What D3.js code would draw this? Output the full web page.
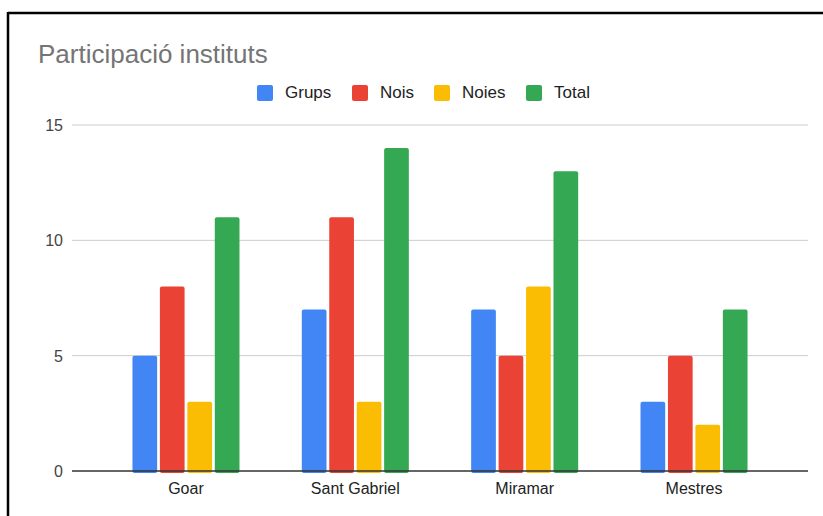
<!DOCTYPE html>
<html>
<head>
<meta charset="utf-8">
<script src="https://cdn.jsdelivr.net/npm/d3@7"></script>
<style>
  body { margin: 0; background: #fff; }
  svg { display: block; font-family: "Liberation Sans", Arial, sans-serif; }
</style>
</head>
<body>
<div id="c1"></div>
<script>
// Data
var categories = ["Goar", "Sant Gabriel", "Miramar", "Mestres"];
var seriesNames = ["Grups", "Nois", "Noies", "Total"];
var grups = [5, 7, 7, 3];
var nois = [8, 11, 5, 5];
var noies = [3, 3, 8, 2];
var total = [11, 14, 13, 7];
var yTicks = [0, 5, 10, 15];
var colors = ["#4285F4", "#EA4335", "#FBBC04", "#34A853"];

var w = 823, h = 516;
var values = [grups, nois, noies, total];

var svg = d3.select("#c1").append("svg")
    .attr("width", w)
    .attr("height", h);

// frame edges (left / top)
svg.append("line").attr("x1", 8).attr("x2", 8).attr("y1", 12).attr("y2", h)
    .attr("stroke", "#000").attr("stroke-width", 2.5);
svg.append("line").attr("x1", 8).attr("x2", w).attr("y1", 13).attr("y2", 13)
    .attr("stroke", "#000").attr("stroke-width", 2.5);

// Scales
var x = d3.scaleBand()
    .domain(categories)
    .range([72, 808])
    .paddingInner(0.368)
    .paddingOuter(0.357);

var xs = d3.scaleBand()
    .domain(seriesNames)
    .range([0, x.bandwidth()])
    .paddingInner(0.1);

var y = d3.scaleLinear()
    .domain([0, 15])
    .range([471, 125]);

// Gridlines
svg.append("g").selectAll("line")
    .data(yTicks.filter(function (d) { return d > 0; }))
    .enter().append("line")
    .attr("x1", 72).attr("x2", 808)
    .attr("y1", function (d) { return y(d); })
    .attr("y2", function (d) { return y(d); })
    .attr("stroke", "#cccccc")
    .attr("stroke-width", 1);

// Y labels
svg.append("g").selectAll("text")
    .data(yTicks)
    .enter().append("text")
    .attr("x", 63)
    .attr("y", function (d) { return y(d) + 6; })
    .attr("text-anchor", "end")
    .attr("font-size", 16)
    .attr("fill", "#444")
    .text(function (d) { return d; });

// Bars
var groups = svg.append("g").selectAll("g")
    .data(categories)
    .enter().append("g")
    .attr("transform", function (d) { return "translate(" + x(d) + ",0)"; });

groups.selectAll("rect")
    .data(function (d, i) {
        return seriesNames.map(function (s, j) {
            return { s: s, v: values[j][i], c: colors[j] };
        });
    })
    .enter().append("rect")
    .attr("x", function (d) { return xs(d.s); })
    .attr("width", xs.bandwidth())
    .attr("y", function (d) { return y(d.v); })
    .attr("height", function (d) { return y(0) - y(d.v) + 2; })
    .attr("rx", 2)
    .attr("fill", function (d) { return d.c; });

// Baseline
svg.append("line")
    .attr("x1", 72).attr("x2", 808)
    .attr("y1", y(0)).attr("y2", y(0))
    .attr("stroke", "#333")
    .attr("stroke-width", 1.5);

// X labels
svg.append("g").selectAll("text")
    .data(categories)
    .enter().append("text")
    .attr("x", function (d) { return x(d) + x.bandwidth() / 2; })
    .attr("y", 494)
    .attr("text-anchor", "middle")
    .attr("font-size", 16)
    .attr("fill", "#222")
    .text(function (d) { return d; });

// Title
svg.append("text")
    .attr("x", 38)
    .attr("y", 63)
    .attr("font-size", 26)
    .attr("fill", "#757575")
    .text("Participació instituts");

// Legend
var legendX = [257, 352, 434, 526];
var legend = svg.append("g").selectAll("g")
    .data(seriesNames)
    .enter().append("g")
    .attr("transform", function (d, i) { return "translate(" + legendX[i] + ",85)"; });

legend.append("rect")
    .attr("width", 16).attr("height", 16)
    .attr("rx", 2)
    .attr("fill", function (d, i) { return colors[i]; });

legend.append("text")
    .attr("x", 28)
    .attr("y", 13)
    .attr("font-size", 17)
    .attr("fill", "#222")
    .text(function (d) { return d; });
</script>
</body>
</html>
